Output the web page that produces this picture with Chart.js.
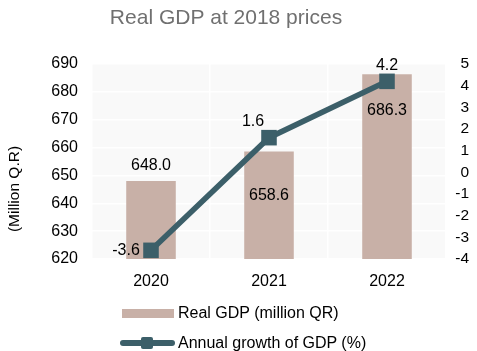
<!DOCTYPE html>
<html>
<head>
<meta charset="utf-8">
<script src="https://cdn.jsdelivr.net/npm/chart.js@4/dist/chart.umd.min.js"></script>
<style>
    body { margin: 0; background: #fff; }
    #wrap { position: relative; width: 477px; height: 351px; overflow: hidden; font-family: 'Liberation Sans', Arial, sans-serif; }
    .legend-row { position: absolute; left: 120px; height: 20px; display: flex; align-items: center; font-size: 16px; color: #000; }
    .swatch-bar { width: 52px; height: 9px; background: #c8b0a7; margin-left: 2px; margin-right: 4px; }
    .swatch-line { position: relative; width: 55px; height: 20px; margin-right: 3px; }
    .swatch-line .ln { position: absolute; left: 0; right: 0; top: 7px; height: 6px; border-radius: 3px; background: #3c5f69; }
    .swatch-line .mk { position: absolute; left: 21px; top: 4px; width: 12px; height: 12px; background: #3c5f69; border-radius: 2px; }
</style>
</head>
<body>
<div id="wrap">
    <canvas id="gdpChart" width="477" height="351"></canvas>
    <div class="legend-row" style="top: 303px;"><div class="swatch-bar"></div>Real GDP (million QR)</div>
    <div class="legend-row" style="top: 333px;"><div class="swatch-line"><div class="ln"></div><div class="mk"></div></div>Annual growth of GDP (%)</div>
</div>
<script>
// Chart data
const years = ['2020', '2021', '2022'];
const realGdp = [648.0, 658.6, 686.3];
const gdpGrowth = [-3.6, 1.6, 4.2];

// Label placement (dx, dy from the mark), purely styling
const gdpLabelOffsets = [[0, -15], [0, 44], [0, 36]];
const growthLabelOffsets = [[-25, 0], [-16, -16], [0, -16]];

const barColor = '#c8b0a7';
const lineColor = '#3c5f69';
const fontFamily = "'Liberation Sans', Arial, sans-serif";

// Plot background, title and left axis title
const backgroundPlugin = {
    id: 'plotBackground',
    beforeDraw(chart) {
        const { ctx, chartArea } = chart;
        ctx.save();
        ctx.fillStyle = '#f9f9f9';
        ctx.fillRect(chartArea.left, chartArea.top, chartArea.right - chartArea.left, chartArea.bottom - chartArea.top);
        ctx.fillStyle = '#707070';
        ctx.font = '21px ' + fontFamily;
        ctx.textAlign = 'center';
        ctx.textBaseline = 'middle';
        ctx.fillText('Real GDP at 2018 prices', 226, 18);

        ctx.fillStyle = '#000';
        ctx.font = '15.5px ' + fontFamily;
        ctx.translate(15, 189);
        ctx.rotate(-Math.PI / 2);
        ctx.fillText('(Million Q.R)', 0, 0);
        ctx.restore();
    }
};

// Value labels on bars and points
const valueLabelPlugin = {
    id: 'valueLabels',
    afterDatasetsDraw(chart) {
        const { ctx } = chart;
        ctx.save();
        ctx.font = '16px ' + fontFamily;
        ctx.fillStyle = '#000';
        ctx.textAlign = 'center';
        ctx.textBaseline = 'middle';
        chart.getDatasetMeta(1).data.forEach((bar, i) => {
            const [dx, dy] = gdpLabelOffsets[i];
            ctx.fillText(realGdp[i].toFixed(1), bar.x + dx, bar.y + dy);
        });
        chart.getDatasetMeta(0).data.forEach((pt, i) => {
            const [dx, dy] = growthLabelOffsets[i];
            ctx.fillText(gdpGrowth[i].toFixed(1), pt.x + dx, pt.y + dy);
        });
        ctx.restore();
    }
};

const ctx = document.getElementById('gdpChart').getContext('2d');
new Chart(ctx, {
    data: {
        labels: years,
        datasets: [
            {
                type: 'line',
                label: 'Annual growth of GDP (%)',
                data: gdpGrowth,
                yAxisID: 'yRight',
                borderColor: lineColor,
                backgroundColor: lineColor,
                borderWidth: 5.5,
                pointStyle: 'rect',
                pointRadius: 11,
                pointBorderWidth: 0,
                pointBackgroundColor: lineColor,
                tension: 0,
                order: 1
            },
            {
                type: 'bar',
                label: 'Real GDP (million QR)',
                data: realGdp,
                yAxisID: 'y',
                backgroundColor: barColor,
                barPercentage: 0.42,
                categoryPercentage: 1,
                order: 2
            }
        ]
    },
    options: {
        responsive: false,
        animation: false,
        layout: {
            padding: { top: 64, bottom: 52, left: 0, right: 8 }
        },
        scales: {
            x: {
                grid: { color: '#ffffff', lineWidth: 1.5, drawTicks: false, offset: true },
                border: { display: false },
                ticks: { color: '#000', padding: 13, font: { family: fontFamily, size: 16 } },
                afterFit(scale) { scale.height = 40; }
            },
            y: {
                position: 'left',
                min: 620,
                max: 690,
                grid: { color: '#ffffff', lineWidth: 1.5, drawTicks: false },
                border: { display: false },
                ticks: { stepSize: 10, color: '#000', padding: 14, font: { family: fontFamily, size: 16 } },
                afterFit(scale) { scale.width = 92; }
            },
            yRight: {
                position: 'right',
                min: -4,
                max: 5,
                grid: { display: false, drawTicks: false },
                border: { display: false },
                ticks: {
                    stepSize: 1,
                    autoSkip: false,
                    crossAlign: 'far',
                    color: '#000',
                    padding: 4,
                    font: { family: fontFamily, size: 15.5 }
                },
                afterFit(scale) { scale.width = 23; }
            }
        },
        plugins: {
            legend: { display: false },
            tooltip: { enabled: false }
        }
    },
    plugins: [backgroundPlugin, valueLabelPlugin]
});
</script>
</body>
</html>
